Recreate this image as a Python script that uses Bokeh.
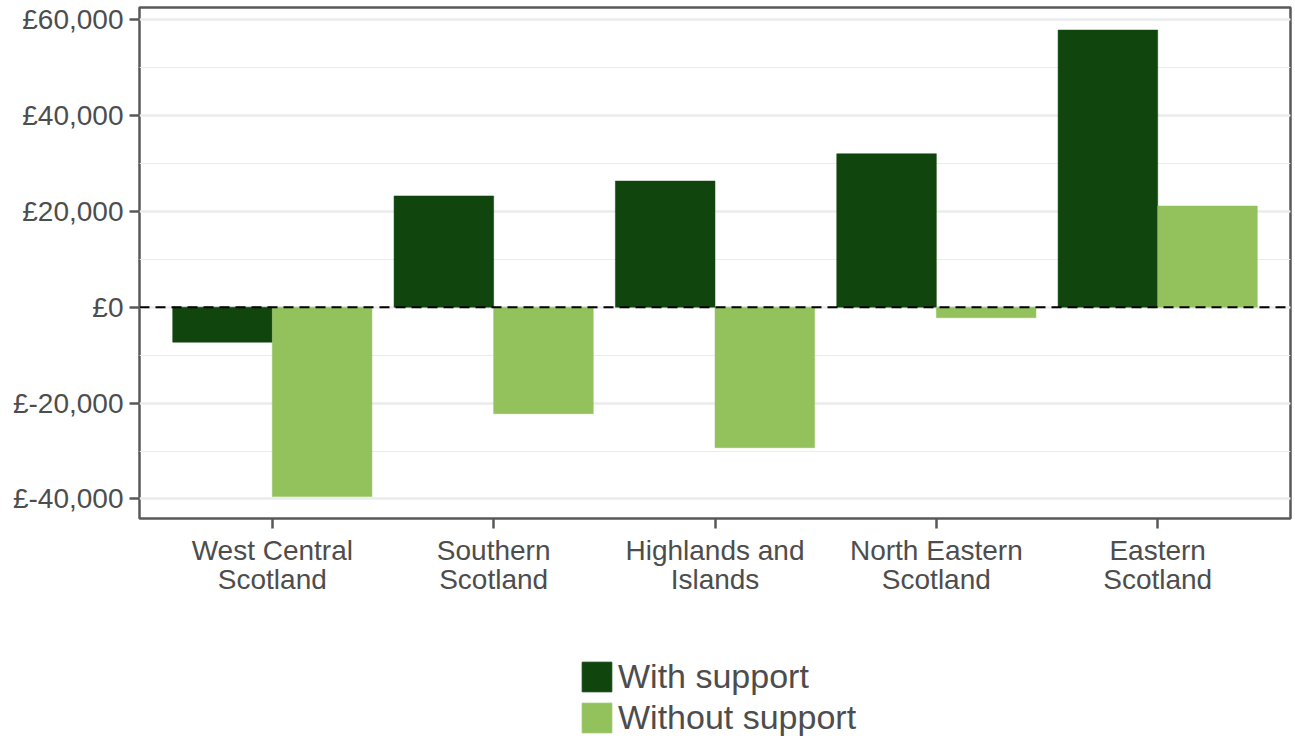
from bokeh.plotting import figure
from bokeh.layouts import column
from bokeh.models import (FactorRange, Range1d, ColumnDataSource, Legend, LegendItem,
                          Span, SingleIntervalTicker, CustomJSTickFormatter)
from bokeh.transform import dodge
from bokeh.embed import file_html
from bokeh.resources import INLINE

regions = ["West Central\nScotland", "Southern\nScotland", "Highlands and\nIslands",
           "North Eastern\nScotland", "Eastern\nScotland"]
with_support = [-7300, 23200, 26300, 32000, 57800]
without_support = [-39500, -22200, -29300, -2200, 21100]
series_names = ["With support", "Without support"]
colors = ["#10450d", "#93c25d"]

FONT = "Liberation Sans"
TXT = "#4d4d4d"

src = ColumnDataSource(dict(region=regions, w=with_support, wo=without_support))

xr = FactorRange(*regions, range_padding=0.04, range_padding_units="percent")

p = figure(x_range=xr, y_range=Range1d(-44070, 62500),
           frame_width=1151, frame_height=511, output_backend="svg", toolbar_location=None,
           min_border_left=139, min_border_right=5, min_border_top=7, min_border_bottom=0)

r1 = p.vbar(x=dodge("region", -0.225, range=xr), top="w", width=0.45, source=src,
            fill_color=colors[0], line_color=colors[0], line_width=0.5)
r2 = p.vbar(x=dodge("region", 0.225, range=xr), top="wo", width=0.45, source=src,
            fill_color=colors[1], line_color=colors[1], line_width=0.5)

p.add_layout(Span(location=0, dimension="width", line_color="black", line_width=2,
                  line_dash="10 6"))

p.background_fill_color = "white"
p.border_fill_color = "white"
p.outline_line_color = "#595959"
p.outline_line_width = 2.5

p.xgrid.grid_line_color = None
p.ygrid.grid_line_color = "#ebebeb"
p.ygrid.grid_line_width = 2.5
p.ygrid.minor_grid_line_color = "#ebebeb"
p.ygrid.minor_grid_line_width = 1.2

p.yaxis.ticker = SingleIntervalTicker(interval=20000, num_minor_ticks=2)
p.yaxis.formatter = CustomJSTickFormatter(code="""
const s = Math.abs(tick).toLocaleString('en-GB');
return tick < 0 ? '£-' + s : '£' + s;
""")

for ax in (p.xaxis[0], p.yaxis[0]):
    ax.axis_line_color = None
    ax.major_tick_line_color = "#595959"
    ax.major_tick_line_width = 2.5
    ax.major_tick_out = 10
    ax.major_tick_in = 0
    ax.minor_tick_line_color = None
    ax.major_label_text_font = FONT
    ax.major_label_text_font_size = "28px"
    ax.major_label_text_color = TXT
    ax.major_label_standoff = 6

p.xaxis.major_label_text_line_height = 0.95

# legend strip below the chart (same series, drawn outside its visible y window)
q = figure(width=1295, height=145, output_backend="svg", toolbar_location=None,
           x_range=xr, y_range=Range1d(1e6, 2e6),
           min_border=0, border_fill_color="white", background_fill_color="white")
q.axis.visible = False
q.grid.visible = False
q.outline_line_color = None
l1 = q.vbar(x=dodge("region", -0.225, range=xr), top="w", width=0.45, source=src,
            fill_color=colors[0], line_color=colors[0])
l2 = q.vbar(x=dodge("region", 0.225, range=xr), top="wo", width=0.45, source=src,
            fill_color=colors[1], line_color=colors[1])
legend = Legend(items=[LegendItem(label=series_names[0], renderers=[l1]),
                       LegendItem(label=series_names[1], renderers=[l2])],
                location=(439, 5), orientation="vertical",
                label_text_font=FONT, label_text_font_size="34px", label_text_color=TXT,
                glyph_width=37, glyph_height=37, spacing=2, padding=0, margin=0,
                label_standoff=3, label_height=37,
                border_line_color=None, background_fill_alpha=0)
q.add_layout(legend, "center")

open("out.html", "w").write(file_html(column(p, q, spacing=0), INLINE))
